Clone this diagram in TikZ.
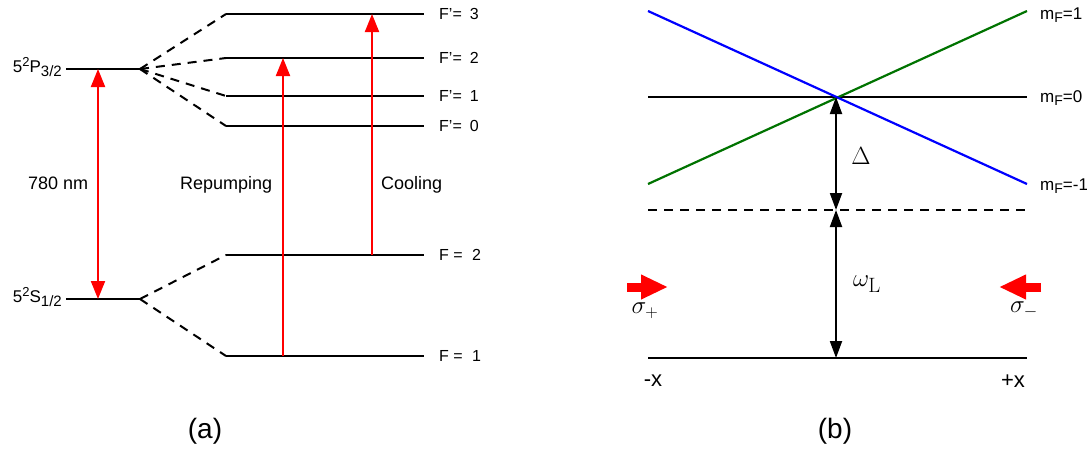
\documentclass[tikz,border=0pt]{standalone}
\usepackage{amsmath}
\usepackage[no-math]{fontspec}
\setmainfont{Liberation Sans}
\usetikzlibrary{arrows.meta}
\newcommand{\lvlname}[3]{5\raisebox{6pt}{\fontsize{13}{13}\selectfont 2}#1\raisebox{-4.5pt}{\fontsize{15}{15}\selectfont #2/#3}}
\newcommand{\mflab}[1]{m\raisebox{-3.5pt}{\fontsize{14}{14}\selectfont F}=#1}
\begin{document}
\begin{tikzpicture}[x=1pt,y=-1pt,
  lvl/.style={line width=2.4pt,black},
  dsh/.style={line width=2pt,dash pattern=on 9pt off 7pt},
  redarr/.style={line width=2pt,red,{Triangle[width=14pt,length=18pt]}-{Triangle[width=14pt,length=18pt]}},
  redup/.style={line width=2pt,red,-{Triangle[width=14pt,length=18pt]}},
  blkarr/.style={line width=2pt,black,{Triangle[width=12pt,length=17pt]}-{Triangle[width=12pt,length=17pt]}},
  fat/.style={line width=9pt,red,-{Triangle[width=23pt,length=27pt]}},
  lab/.style={font=\fontsize{18}{20}\selectfont,inner sep=0pt},
  flab/.style={font=\fontsize{16}{18}\selectfont,inner sep=0pt,anchor=west},
  caplab/.style={font=\fontsize{28}{30}\selectfont,inner sep=0pt}]
\useasboundingbox (0,0) rectangle (1087,450);
% ---------- (a) ----------
\coordinate (P1) at (66,69); \coordinate (P2) at (140,69);
\coordinate (S1) at (66,299); \coordinate (S2) at (140,299);
\draw[lvl] (P1) -- (P2);
\draw[lvl] (S1) -- (S2);
\node[lab,anchor=east,font=\fontsize{17}{19}\selectfont] (Plab) at (62,67) {\lvlname{P}{3}{2}};
\node[lab,anchor=east,font=\fontsize{17}{19}\selectfont] (Slab) at (62,297) {\lvlname{S}{1}{2}};
\foreach \n/\y/\t in {F3/14/{F'=\hspace{0.5em}3},F2p/58/{F'=\hspace{0.5em}2},F1p/96/{F'=\hspace{0.5em}1},F0/126/{F'=\hspace{0.5em}0},G2/255/{F = \hspace{0.3em}2},G1/356/{F = \hspace{0.3em}1}}{
  \coordinate (\n a) at (226,\y); \coordinate (\n b) at (424,\y);
  \draw[lvl] (\n a) -- (\n b);
  \node[flab] (\n lab) at (439,\y) {\t};
}
\foreach \n in {F3,F2p,F1p,F0} \draw[dsh] (P2) -- (\n a);
\foreach \n in {G2,G1} \draw[dsh] (S2) -- (\n a);
\coordinate (A1) at (98,69); \coordinate (A2) at (98,299);
\draw[redarr] (A1) -- (A2);
\node[lab,anchor=west] (nm) at (28,183) {780 nm};
\coordinate (R1) at (283,356); \coordinate (R2) at (283,58);
\draw[redup] (R1) -- (R2);
\node[lab,anchor=west] (rep) at (180,185) {Repumping};
\coordinate (C1) at (372,255); \coordinate (C2) at (372,14);
\draw[redup] (C1) -- (C2);
\node[lab,anchor=west] (cool) at (381,185) {Cooling};
\node[caplab] (a) at (205,431) {(a)};
% ---------- (b) ----------
\coordinate (L0) at (648,97); \coordinate (R0) at (1027,97);
\draw[line width=2.2pt] (L0) -- (R0);
\draw[line width=2.2pt,green!45!black] (648,184) -- (1027,11);
\draw[line width=2.2pt,blue] (648,11) -- (1027,184);
\coordinate (X) at (836,97);
\coordinate (D) at (836,210);
\coordinate (B) at (836,358);
\draw[line width=2.2pt,dash pattern=on 9pt off 7pt] (648,210) -- (1030,210);
\draw[line width=2.6pt] (648,358) -- (1027,358);
\draw[blkarr] (X) -- (D);
\draw[blkarr] (D) -- (B);
\node[inner sep=0pt,font=\fontsize{29}{31}\selectfont] (del) at (861,156) {$\Delta$};
\node[inner sep=0pt,font=\fontsize{30}{32}\selectfont] (om) at (867,284) {$\omega_{\mathrm{L}}$};
\node[flab,font=\fontsize{17}{19}\selectfont] (m1) at (1040,15) {\mflab{1}};
\node[flab,font=\fontsize{17}{19}\selectfont] (m0) at (1040,98) {\mflab{0}};
\node[flab,font=\fontsize{17}{19}\selectfont] (mm) at (1040,186) {\mflab{-1}};
\coordinate (s1a) at (627,287); \coordinate (s1b) at (668,287);
\draw[fat] (s1a) -- (s1b);
\coordinate (s2a) at (1041,287); \coordinate (s2b) at (999,287);
\draw[fat] (s2a) -- (s2b);
\node[inner sep=0pt,font=\fontsize{24}{26}\selectfont] (sp) at (645,311) {$\sigma_+$};
\node[inner sep=0pt,font=\fontsize{24}{26}\selectfont] (sm) at (1024,310) {$\sigma_-$};
\node[lab,font=\fontsize{22}{24}\selectfont] (mx) at (653,381) {-x};
\node[lab,font=\fontsize{22}{24}\selectfont] (px) at (1013,381) {+x};
\node[caplab] (b) at (835,431) {(b)};
\end{tikzpicture}
\end{document}
